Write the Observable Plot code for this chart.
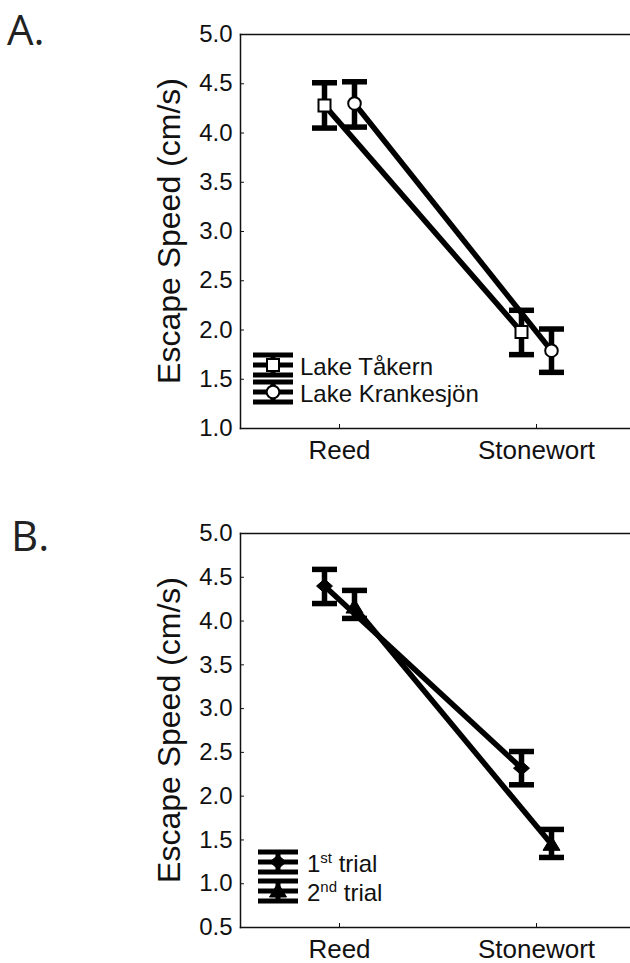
<!DOCTYPE html>
<html><head><meta charset="utf-8">
<script src="https://cdn.jsdelivr.net/npm/d3@7"></script>
<script src="https://cdn.jsdelivr.net/npm/@observablehq/plot@0.6"></script>
<style>
html,body{margin:0;padding:0;background:#fff;}
#wrap{position:relative;width:630px;height:963px;overflow:hidden;background:#fff;}
#wrap > svg.plotsvg{display:block;}
#overlay{position:absolute;left:0;top:0;pointer-events:none;}
</style></head><body><div id="wrap"></div>
<script>
// ---------- data ----------
const categories = ["Reed", "Stonewort"];

// Panel A
const lakeNames = ["Lake Tåkern", "Lake Krankesjön"];
const takernMean = [4.28, 1.98];
const takernLow  = [4.05, 1.75];
const takernHigh = [4.51, 2.20];
const krankMean  = [4.30, 1.79];
const krankLow   = [4.06, 1.57];
const krankHigh  = [4.52, 2.01];
const yTicksA = [1.0, 1.5, 2.0, 2.5, 3.0, 3.5, 4.0, 4.5, 5.0];

// Panel B
const trialNames = [["1", "st", " trial"], ["2", "nd", " trial"]];
const trial1Mean = [4.40, 2.32];
const trial1Low  = [4.20, 2.13];
const trial1High = [4.59, 2.51];
const trial2Mean = [4.16, 1.45];
const trial2Low  = [4.03, 1.30];
const trial2High = [4.35, 1.62];
const yTicksB = [0.5, 1.0, 1.5, 2.0, 2.5, 3.0, 3.5, 4.0, 4.5, 5.0];

const yLabel = "Escape Speed (cm/s)";
const panelLabels = ["A.", "B."];

// ---------- helpers ----------
const rows = (m, lo, hi) => categories.map((c, i) => ({cat: c, mean: m[i], lo: lo[i], hi: hi[i]}));

const capSym = {draw(ctx) { ctx.moveTo(-12.5, 0); ctx.lineTo(12.5, 0); }};
const squareSym = {draw(ctx) { ctx.moveTo(-6, -6); ctx.lineTo(6, -6); ctx.lineTo(6, 6); ctx.lineTo(-6, 6); ctx.closePath(); }};
const circleSym = {draw(ctx) { ctx.moveTo(6.3, 0); ctx.arc(0, 0, 6.3, 0, 2 * Math.PI); ctx.closePath(); }};
const diamondSym = {draw(ctx) { ctx.moveTo(0, -7); ctx.lineTo(8, 0); ctx.lineTo(0, 7); ctx.lineTo(-8, 0); ctx.closePath(); }};
const triangleSym = {draw(ctx) { ctx.moveTo(0, -8); ctx.lineTo(8.5, 6); ctx.lineTo(-8.5, 6); ctx.closePath(); }};

const LW = 5.5;
const FONT = "'Liberation Sans', Arial, Helvetica, sans-serif";

function panel({height, marginTop, marginBottom, yDomain, yTicks, series}) {
  const marks = [];
  for (const s of series) {
    marks.push(Plot.line(s.data, {x: "cat", y: "mean", dx: s.dx, stroke: "black", strokeWidth: LW, strokeLinecap: "butt"}));
  }
  for (const s of series) {
    marks.push(Plot.ruleX(s.data, {x: "cat", y1: "lo", y2: "hi", dx: s.dx, stroke: "black", strokeWidth: LW}));
    marks.push(Plot.dot(s.data, {x: "cat", y: "lo", dx: s.dx, symbol: capSym, r: 5, fill: "none", stroke: "black", strokeWidth: LW, strokeLinecap: "butt"}));
    marks.push(Plot.dot(s.data, {x: "cat", y: "hi", dx: s.dx, symbol: capSym, r: 5, fill: "none", stroke: "black", strokeWidth: LW, strokeLinecap: "butt"}));
  }
  for (const s of series) {
    marks.push(Plot.dot(s.data, {x: "cat", y: "mean", dx: s.dx, symbol: s.symbol, r: 5, fill: s.fill, stroke: "black", strokeWidth: s.sw}));
  }
  marks.push(Plot.frame({anchor: "top", stroke: "#111", strokeWidth: 1.5}));
  marks.push(Plot.frame({anchor: "left", stroke: "#111", strokeWidth: 1.5}));
  marks.push(Plot.frame({anchor: "bottom", stroke: "#111", strokeWidth: 1.5}));
  marks.push(Plot.axisY(yTicks, {tickSize: -4, tickPadding: 12, tickFormat: d => d.toFixed(1), label: null, stroke: "#111", fontSize: 24}));
  marks.push(Plot.axisX({tickSize: -4, tickPadding: 16, label: null, stroke: "#111", fontSize: 26}));
  const svg = Plot.plot({
    width: 630, height,
    marginLeft: 240, marginRight: 0, marginTop, marginBottom,
    x: {type: "point", domain: categories, range: [339, 536], padding: 0, label: null},
    y: {domain: yDomain, label: null},
    style: {fontFamily: FONT, fontSize: "24px", color: "#111", background: "white", overflow: "visible"},
    marks
  });
  svg.classList.add("plotsvg");
  return svg;
}

const wrap = document.getElementById("wrap");

wrap.appendChild(panel({
  height: 480, marginTop: 34, marginBottom: 52, yDomain: [1, 5], yTicks: yTicksA,
  series: [
    {data: rows(takernMean, takernLow, takernHigh), dx: -15, symbol: squareSym, fill: "white", sw: 2},
    {data: rows(krankMean, krankLow, krankHigh), dx: 15, symbol: circleSym, fill: "white", sw: 2}
  ]
}));

wrap.appendChild(panel({
  height: 483, marginTop: 53, marginBottom: 36, yDomain: [0.5, 5], yTicks: yTicksB,
  series: [
    {data: rows(trial1Mean, trial1Low, trial1High), dx: -15, symbol: diamondSym, fill: "black", sw: 1},
    {data: rows(trial2Mean, trial2Low, trial2High), dx: 15, symbol: triangleSym, fill: "black", sw: 1}
  ]
}));

// ---------- overlay: panel letters, y labels, legends ----------
const ov = d3.select(wrap).append("svg").attr("id", "overlay").attr("width", 630).attr("height", 963);

ov.append("text").attr("x", 7).attr("y", 45).attr("font-family", "'Open Sans', 'Noto Sans', sans-serif")
  .attr("font-size", 42).attr("fill", "#222").text(panelLabels[0]);
ov.append("text").attr("x", 11).attr("y", 551).attr("font-family", "'Open Sans', 'Noto Sans', sans-serif")
  .attr("font-size", 42).attr("fill", "#222").text(panelLabels[1]);

for (const [cx, cy] of [[180, 231], [180, 730]]) {
  ov.append("text").attr("transform", `translate(${cx},${cy}) rotate(-90)`).attr("text-anchor", "middle")
    .attr("font-family", FONT).attr("font-size", 32).attr("fill", "#111").text(yLabel);
}

function legendGlyph(g, x0, cy, marker, fill) {
  const w = 40;
  for (const dy of [-10, 0, 10]) {
    g.append("line").attr("x1", x0).attr("x2", x0 + w).attr("y1", cy + dy).attr("y2", cy + dy)
      .attr("stroke", "black").attr("stroke-width", 5);
  }
  g.append("line").attr("x1", x0 + w / 2).attr("x2", x0 + w / 2).attr("y1", cy - 10).attr("y2", cy + 10)
    .attr("stroke", "black").attr("stroke-width", 5);
  const p = d3.path(); marker.draw(p, 0);
  g.append("path").attr("d", p.toString()).attr("transform", `translate(${x0 + w / 2},${cy})`)
    .attr("fill", fill).attr("stroke", "black").attr("stroke-width", fill === "white" ? 2 : 1);
}

// Legend A
const lgA = ov.append("g");
[[365, squareSym], [392, circleSym]].forEach(([cy, sym], i) => {
  legendGlyph(lgA, 253, cy, sym, "white");
  lgA.append("text").attr("x", 300).attr("y", cy + 10).attr("font-family", FONT).attr("font-size", 24)
    .attr("fill", "#111").text(lakeNames[i]);
});

// Legend B
const lgB = ov.append("g");
[[862, diamondSym], [891, triangleSym]].forEach(([cy, sym], i) => {
  legendGlyph(lgB, 258, cy, sym, "black");
  const t = lgB.append("text").attr("x", 307).attr("y", cy + 10).attr("font-family", FONT).attr("font-size", 24).attr("fill", "#111");
  t.append("tspan").text(trialNames[i][0]);
  t.append("tspan").attr("font-size", 15).attr("dy", -9).text(trialNames[i][1]);
  t.append("tspan").attr("dy", 9).text(trialNames[i][2]);
});
</script></body></html>
